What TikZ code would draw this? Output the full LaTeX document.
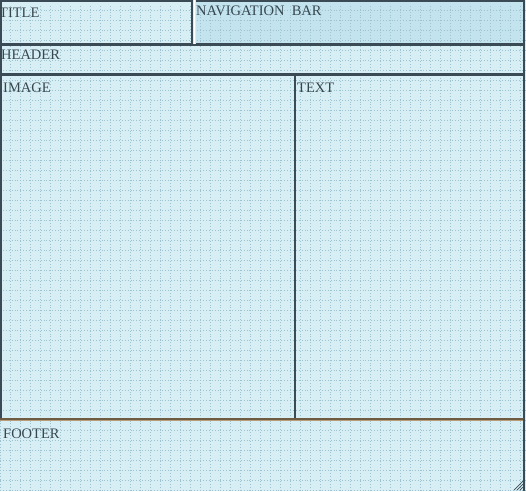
\documentclass[tikz,border=0pt]{standalone}
\usepackage{fontspec}
\setmainfont{Liberation Serif}
\usepackage{xcolor}
\usetikzlibrary{positioning, calc}

\definecolor{sky}{HTML}{D8EEF5}
\definecolor{navsky}{HTML}{C3E3EF}
\definecolor{gridblue}{HTML}{9CC3CF}
\definecolor{edge}{HTML}{3A4B55}
\definecolor{ink}{HTML}{37474F}
\definecolor{footline}{HTML}{6E5B43}
\definecolor{foottan}{HTML}{B89C78}

\begin{document}
\begin{tikzpicture}[
        x=1pt, y=-1pt,
        region/.style={rectangle, draw=edge, line width=2pt, fill=sky, anchor=north west, inner sep=0pt, outer sep=0pt},
        tag/.style={anchor=base west, inner sep=0pt, font=\fontsize{14.5}{16}\selectfont, text=ink},
        gridline/.style={gridblue, line width=0.9pt, dotted}
    ]
        \useasboundingbox (0,0) rectangle (526,491);
        \fill[sky] (0,0) rectangle (526,491);

        % layout boxes
        \node (title) [region, minimum width=191pt, minimum height=43pt] at (1,1) {};
        \node (nav) [region, fill=navsky, draw=none, minimum width=328pt, minimum height=43pt] at (196,1) {};
        \node (header) [region, minimum width=523pt, minimum height=29pt] at (1,45) {};
        \node (image) [region, minimum width=294pt, minimum height=344pt] at (1,75) {};
        \node (text) [region, minimum width=229pt, minimum height=344pt] at (295,75) {};
        \node (footer) [region, draw=none, minimum width=524pt, minimum height=72pt] at (0,419) {};

        % dotted grid
        \draw[gridline] (0,4) grid[xstep=10pt, ystep=10pt] (526,491);

        % borders over the grid
        \draw[edge, line width=2pt] (title.north west) rectangle (title.south east);
        \draw[white, line width=1.5pt] (194.5,0) -- (194.5,45);
        \draw[edge, line width=2pt] (nav.north west) -- (nav.north east) -- (nav.south east) -- (nav.south west);
        \draw[edge, line width=2pt] (header.north west) rectangle (header.south east);
        \draw[edge, line width=2pt] (image.north west) rectangle (image.south east);
        \draw[edge, line width=2pt] (text.north west) rectangle (text.south east);
        \draw[footline, line width=2pt] (footer.north west) -- (footer.north east);
        \draw[foottan, line width=1pt] ($(footer.north west)+(0,1.5)$) -- ($(footer.north east)+(0,1.5)$);
        \draw[edge, line width=2pt] (footer.north east) -- (footer.south east);

        % resize grip
        \foreach \d in {3,6,9}
            \draw[edge, line width=0.7pt] ($(footer.south east)+(-\d-1,-1)$) -- ($(footer.south east)+(-1,-\d-1)$);

        % labels
        \node (titletag) [tag] at ($(title.north west)+(-2,16)$) {TITLE};
        \node (navtag) [tag] at ($(nav.north west)+(0,14)$) {NAVIGATION\ \ BAR};
        \node (headertag) [tag] at ($(header.north west)+(0,14)$) {HEADER};
        \node (imagetag) [tag] at ($(image.north west)+(2,17)$) {IMAGE};
        \node (texttag) [tag] at ($(text.north west)+(2,17)$) {TEXT};
        \node (footertag) [tag] at ($(footer.north west)+(3,19)$) {FOOTER};
    \end{tikzpicture}
\end{document}
